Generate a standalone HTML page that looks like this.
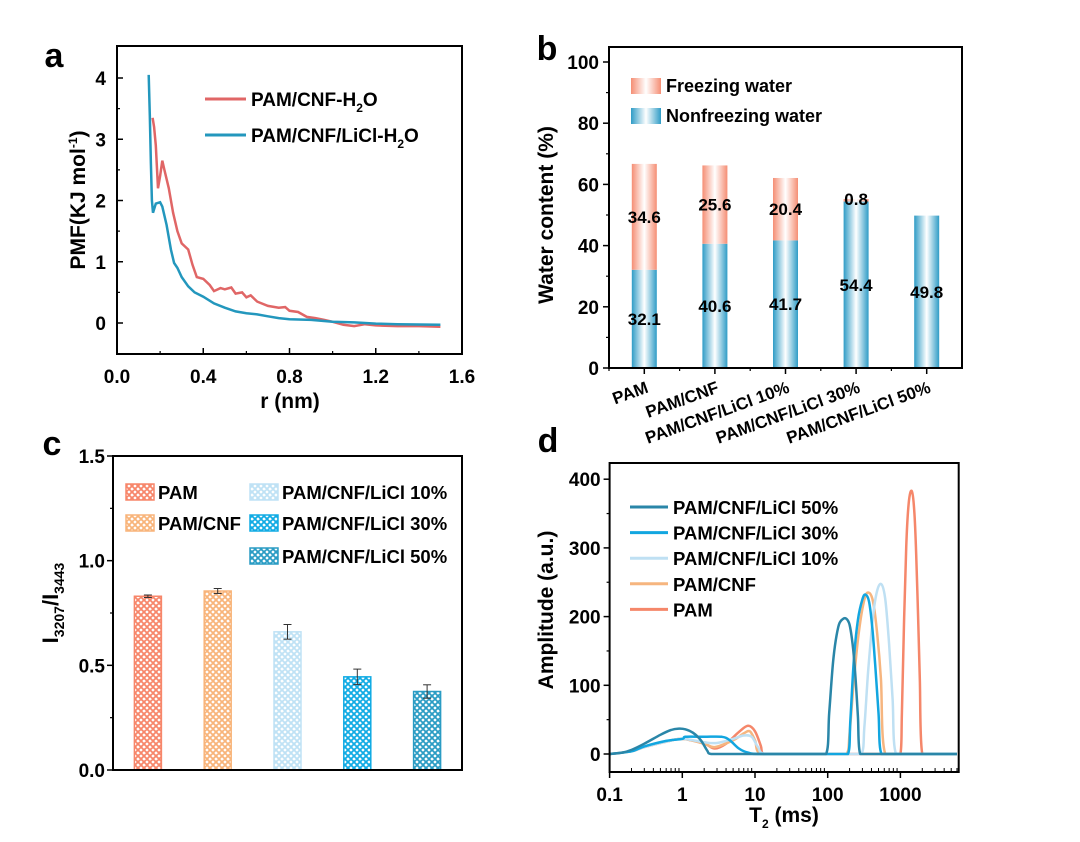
<!DOCTYPE html>
<html><head><meta charset="utf-8">
<style>
html,body{margin:0;padding:0;background:#fff;}
svg{display:block;font-family:"Liberation Sans",Arial,sans-serif;font-weight:bold;}
</style></head>
<body>
<svg id="fig" width="1080" height="842" viewBox="0 0 1080 842" xmlns="http://www.w3.org/2000/svg">
<defs>
<linearGradient id="gBlue" x1="0" x2="1" y1="0" y2="0">
<stop offset="0" stop-color="#2f9cc6"/><stop offset="0.5" stop-color="#ffffff"/><stop offset="1" stop-color="#2f9cc6"/></linearGradient>
<linearGradient id="gRed" x1="0" x2="1" y1="0" y2="0">
<stop offset="0" stop-color="#f58e74"/><stop offset="0.5" stop-color="#ffffff"/><stop offset="1" stop-color="#f58e74"/></linearGradient>
</defs>
</svg>
<script>
const NS='http://www.w3.org/2000/svg';
const svg=document.getElementById('fig');

// ---------- Panel a data ----------
const aRedR=[0.165,0.172,0.18,0.19,0.20,0.21,0.22,0.24,0.26,0.28,0.30,0.33,0.35,0.37,0.40,0.43,0.45,0.48,0.50,0.53,0.55,0.58,0.60,0.62,0.65,0.70,0.75,0.78,0.80,0.84,0.88,0.92,0.96,1.0,1.05,1.1,1.15,1.2,1.3,1.4,1.5];
const aRedV=[3.35,3.2,2.9,2.2,2.4,2.65,2.5,2.2,1.8,1.5,1.3,1.2,0.95,0.75,0.72,0.62,0.52,0.57,0.55,0.58,0.48,0.5,0.42,0.45,0.35,0.28,0.25,0.26,0.2,0.18,0.1,0.08,0.05,0.02,-0.03,-0.05,-0.02,-0.04,-0.05,-0.05,-0.06];
const aBlueR=[0.147,0.152,0.157,0.162,0.167,0.18,0.20,0.21,0.23,0.25,0.265,0.28,0.30,0.33,0.36,0.40,0.45,0.50,0.55,0.60,0.65,0.70,0.75,0.80,0.90,1.0,1.1,1.2,1.3,1.5];
const aBlueV=[4.05,3.4,2.6,2.0,1.8,1.95,1.97,1.9,1.6,1.2,0.98,0.9,0.75,0.6,0.5,0.43,0.32,0.25,0.19,0.16,0.14,0.11,0.08,0.06,0.05,0.02,0.01,-0.01,-0.02,-0.03];
const aXTicks=[0,0.4,0.8,1.2,1.6];
const aXTickLabels=['0.0','0.4','0.8','1.2','1.6'];
const aYTicks=[0,1,2,3,4];

// ---------- Panel b data ----------
const bCats=['PAM','PAM/CNF','PAM/CNF/LiCl 10%','PAM/CNF/LiCl 30%','PAM/CNF/LiCl 50%'];
const bNonfreezing=[32.1,40.6,41.7,54.4,49.8];
const bFreezing=[34.6,25.6,20.4,0.8,0];
const bYTicks=[0,20,40,60,80,100];

// ---------- Panel c data ----------
const cCats=['PAM','PAM/CNF','PAM/CNF/LiCl 10%','PAM/CNF/LiCl 30%','PAM/CNF/LiCl 50%'];
const cValues=[0.83,0.855,0.66,0.445,0.375];
const cErrors=[0.006,0.012,0.035,0.037,0.032];
const cYTicks=[0,0.5,1.0,1.5];
const cYTickLabels=['0.0','0.5','1.0','1.5'];

// ---------- Panel d data ----------
const dT50=[0.1,0.15,0.2,0.3,0.5,0.7,0.9,1.1,1.4,1.8,2.2,2.5,95,105,120,140,160,180,200,220,240,260,280,6000];
const dA50=[0,2,6,15,28,35,37,36,31,20,5,0,0,60,140,185,196,197,188,160,115,55,0,0];
const dT30=[0.1,0.2,0.3,0.6,1.0,1.1,2,3.5,4.5,6,8,12,190,205,230,260,300,330,370,410,450,500,550,6000];
const dA30=[0,4,11,19,22,25,25,25,20,8,2,0,0,50,140,195,225,232,222,185,130,60,0,0];
const dT10=[0.1,0.2,0.3,0.6,1.0,2,3,5,7,9,11,14,290,320,360,420,480,550,620,700,780,870,6000];
const dA10=[0,4,10,18,22,17,16,22,27,25,10,0,0,40,120,200,238,247,225,160,80,0,0];
const dTCNF=[0.1,0.2,0.3,0.6,1.0,2,2.8,5,7,8.5,10,12,180,200,230,270,320,365,420,480,540,620,6000];
const dACNF=[0,4,10,18,22,15,10,20,30,33,20,0,0,30,110,180,225,235,222,175,110,0,0];
const dTPAM=[0.1,0.2,0.3,0.6,1.0,2,2.8,4,6,8,10,12,13,1000,1050,1120,1200,1300,1430,1550,1650,1750,1850,2000,6000];
const dAPAM=[0,4,10,18,22,15,8,15,32,41,33,12,0,0,60,190,300,365,383,355,290,200,110,0,0];
const dXTicks=[0.1,1,10,100,1000];
const dXTickLabels=['0.1','1','10','100','1000'];
const dYTicks=[0,100,200,300,400];

function mk(tag,parent,name,attrs){
  const el=document.createElementNS(NS,tag);
  for(const k in attrs) el.setAttribute(k,attrs[k]);
  
  
  parent.appendChild(el);
  return el;
}
function txt(parent,name,x,y,s,size,anchor,extra){
  const t=mk('text',parent,name,Object.assign({x:x,y:y,'font-size':size,'text-anchor':anchor||'middle',fill:'#000'},extra||{}));
  t.textContent=s;
  return t;
}
function line(parent,name,x1,y1,x2,y2,w,c){
  return mk('line',parent,name,{x1:x1,y1:y1,x2:x2,y2:y2,stroke:c||'#000','stroke-width':w||1.5});
}
function pathFrom(xs,ys,fx,fy){return xs.map((x,i)=>(i?'L':'M')+fx(x).toFixed(1)+','+fy(ys[i]).toFixed(1)).join('');}
function smoothPath(xs,ys,fx,fy){
  const p=xs.map((x,i)=>[fx(x),fy(ys[i])]);
  let d='M'+p[0][0].toFixed(1)+','+p[0][1].toFixed(1);
  for(let i=0;i<p.length-1;i++){
    const p0=p[i-1]||p[i],p1=p[i],p2=p[i+1],p3=p[i+2]||p2;
    let c1x=p1[0]+(p2[0]-p0[0])/6,c1y=p1[1]+(p2[1]-p0[1])/6;
    let c2x=p2[0]-(p3[0]-p1[0])/6,c2y=p2[1]-(p3[1]-p1[1])/6;
    c1x=Math.min(Math.max(c1x,p1[0]),p2[0]);c2x=Math.min(Math.max(c2x,p1[0]),p2[0]);
    c1y=Math.min(c1y,754);c2y=Math.min(c2y,754);
    d+='C'+c1x.toFixed(1)+','+c1y.toFixed(1)+' '+c2x.toFixed(1)+','+c2y.toFixed(1)+' '+p2[0].toFixed(1)+','+p2[1].toFixed(1);
  }
  return d;
}

// ===== Panel a =====
const gA=mk('g',svg,'panel-a',{});
const axL=117,axR=462,ayT=46,ayB=354;
const xa=v=>axL+v*(axR-axL)/1.6;
const ya=v=>323-v*61.25;
txt(gA,'panel-label-a',54,67,'a',34);
mk('rect',gA,'plot-frame-a',{x:axL,y:ayT,width:axR-axL,height:ayB-ayT,fill:'none',stroke:'#000','stroke-width':2});
aXTicks.forEach((v,i)=>{
  line(gA,'x-tick-a',xa(v),ayB,xa(v),ayB-6,1.5);
  txt(gA,'x-tick-label-a',xa(v),ayB+29,aXTickLabels[i],19);
  if(i<aXTicks.length-1) line(gA,'x-minor-tick-a',xa(v+0.2),ayB,xa(v+0.2),ayB-3,1.2);
});
aYTicks.forEach(v=>{
  line(gA,'y-tick-a',axL,ya(v),axL+6,ya(v),1.5);
  txt(gA,'y-tick-label-a',axL-11,ya(v)+7,String(v),19,'end');
});
[-0.5,0.5,1.5,2.5,3.5].forEach(v=>line(gA,'y-minor-tick-a',axL,ya(v),axL+3,ya(v),1.2));
txt(gA,'x-axis-title-a',290,408,'r (nm)',21);
const ytA=mk('text',gA,'y-axis-title-a',{transform:'translate(85,200) rotate(-90)','font-size':21,'text-anchor':'middle'});
ytA.innerHTML='PMF(KJ mol<tspan dy="-8" font-size="12">-1</tspan><tspan dy="8">)</tspan>';
mk('path',gA,'series-pam-cnf-h2o',{d:pathFrom(aRedR,aRedV,xa,ya),fill:'none',stroke:'#e06666','stroke-width':2.5});
mk('path',gA,'series-pam-cnf-licl-h2o',{d:pathFrom(aBlueR,aBlueV,xa,ya),fill:'none',stroke:'#2397bd','stroke-width':2.5});
line(gA,'legend-line-red',205,99,246,99,3,'#e06666');
const l1=mk('text',gA,'legend-label-pam-cnf-h2o',{x:251,y:106,'font-size':19});
l1.innerHTML='PAM/CNF-H<tspan dy="6" font-size="12">2</tspan><tspan dy="-6">O</tspan>';
line(gA,'legend-line-blue',205,135,246,135,3,'#2397bd');
const l2=mk('text',gA,'legend-label-pam-cnf-licl-h2o',{x:251,y:142,'font-size':19});
l2.innerHTML='PAM/CNF/LiCl-H<tspan dy="6" font-size="12">2</tspan><tspan dy="-6">O</tspan>';

// ===== Panel b =====
const gB=mk('g',svg,'panel-b',{});
const bxL=609,bxR=962,byT=47,byB=368;
const yb=v=>byB-v*3.06;
const slotB=(bxR-bxL)/bCats.length;
const xb=i=>bxL+slotB*(i+0.5);
txt(gB,'panel-label-b',547,60,'b',34);
bYTicks.forEach(v=>{
  line(gB,'y-tick-b',bxL,yb(v),bxL-6,yb(v),1.5);
  txt(gB,'y-tick-label-b',bxL-10,yb(v)+7,String(v),19,'end');
  if(v<100) line(gB,'y-minor-tick-b',bxL,yb(v+10),bxL-3,yb(v+10),1.2);
});
const bw=25;
bCats.forEach((c,i)=>{
  const x=xb(i)-bw/2;
  mk('rect',gB,'bar-nonfreezing',{x:x,y:yb(bNonfreezing[i]),width:bw,height:yb(0)-yb(bNonfreezing[i]),fill:'url(#gBlue)'});
  if(bFreezing[i]>0) mk('rect',gB,'bar-freezing',{x:x,y:yb(bNonfreezing[i]+bFreezing[i]),width:bw,height:yb(0)-yb(bFreezing[i]),fill:'url(#gRed)'});
  const top=bNonfreezing[i]+bFreezing[i];
  txt(gB,'value-label-nonfreezing',xb(i),yb(bNonfreezing[i]/2)+6,bNonfreezing[i].toFixed(1),17);
  if(bFreezing[i]>0){
    const yy=bFreezing[i]>5?yb(bNonfreezing[i]+bFreezing[i]/2)+6:yb(top)+6;
    txt(gB,'value-label-freezing',xb(i),yy,bFreezing[i].toFixed(1),17);
  }
  line(gB,'x-tick-b',xb(i),byB,xb(i),byB+6,1.5);
  line(gB,'x-minor-tick-b',bxL+slotB*i,byB,bxL+slotB*i,byB+3,1.2);
  txt(gB,'x-tick-label-b',xb(i)+5,byB+24,c,17,'end',{transform:`rotate(-20 ${xb(i)+5} ${byB+24})`});
});
mk('rect',gB,'plot-frame-b',{x:bxL,y:byT,width:bxR-bxL,height:byB-byT,fill:'none',stroke:'#000','stroke-width':2});
txt(gB,'y-axis-title-b',0,0,'Water content (%)',21,'middle',{transform:'translate(553,215) rotate(-90)'});
mk('rect',gB,'legend-swatch-freezing',{x:631,y:78,width:30,height:16,fill:'url(#gRed)'});
txt(gB,'legend-label-freezing',666,92,'Freezing water',18,'start');
mk('rect',gB,'legend-swatch-nonfreezing',{x:631,y:108,width:30,height:16,fill:'url(#gBlue)'});
txt(gB,'legend-label-nonfreezing',666,122,'Nonfreezing water',18,'start');

// ===== Panel c =====
const gC=mk('g',svg,'panel-c',{});
const cxL=113,cxR=462,cyT=456,cyB=770;
const yc=v=>cyB-v*(cyB-cyT)/1.5;
const slotC=(cxR-cxL)/cCats.length;
const xc=i=>cxL+slotC*(i+0.5);
const cColors=['#f7866a','#f8b47a','#bfe2f5','#10abe4','#2a9cc4'];
const defs=svg.querySelector('defs');
cColors.forEach((col,i)=>{
  const p=mk('pattern',defs,'hatch-pattern',{id:'hp'+i,patternUnits:'userSpaceOnUse',width:6,height:6});
  mk('rect',p,'hatch-bg',{width:6,height:6,fill:'#fff'});
  mk('path',p,'hatch-lines',{d:'M-1,-1 L7,7 M7,-1 L-1,7 M-4,2 L2,-4 M4,10 L10,4 M-4,4 L2,10 M4,-4 L10,2',stroke:col,'stroke-width':1.8,fill:'none'});
});
txt(gC,'panel-label-c',52,455,'c',34);
cYTicks.forEach((v,i)=>{
  line(gC,'y-tick-c',cxL,yc(v),cxL-6,yc(v),1.5);
  txt(gC,'y-tick-label-c',cxL-8,yc(v)+7,cYTickLabels[i],19,'end');
  if(v<1.5) line(gC,'y-minor-tick-c',cxL,yc(v+0.25),cxL-3,yc(v+0.25),1.2);
});
const cw=27;
cCats.forEach((c,i)=>{
  mk('rect',gC,'bar-c',{x:xc(i)-cw/2,y:yc(cValues[i]),width:cw,height:yc(0)-yc(cValues[i]),fill:'url(#hp'+i+')',stroke:cColors[i],'stroke-width':1.5});
  const e=cErrors[i];
  line(gC,'error-bar',xc(i),yc(cValues[i]+e),xc(i),yc(cValues[i]-e),1,'#333');
  line(gC,'error-cap',xc(i)-4,yc(cValues[i]+e),xc(i)+4,yc(cValues[i]+e),1,'#333');
  line(gC,'error-cap',xc(i)-4,yc(cValues[i]-e),xc(i)+4,yc(cValues[i]-e),1,'#333');
});
mk('rect',gC,'plot-frame-c',{x:cxL,y:cyT,width:cxR-cxL,height:cyB-cyT,fill:'none',stroke:'#000','stroke-width':2});
const ytC=mk('text',gC,'y-axis-title-c',{transform:'translate(58,603) rotate(-90)','font-size':22,'text-anchor':'middle'});
ytC.innerHTML='I<tspan dy="6" font-size="14">3207</tspan><tspan dy="-6">/I</tspan><tspan dy="6" font-size="14">3443</tspan>';
const cLeg=[[126,492],[126,523],[250,492],[250,523],[250,556]];
cCats.forEach((c,i)=>{
  mk('rect',gC,'legend-swatch-c',{x:cLeg[i][0],y:cLeg[i][1]-8,width:28,height:16,fill:'url(#hp'+i+')',stroke:cColors[i],'stroke-width':1.5});
  txt(gC,'legend-label-c',cLeg[i][0]+32,cLeg[i][1]+7,c,18.5,'start');
});

// ===== Panel d =====
const gD=mk('g',svg,'panel-d',{});
const dxL=609.6,dxR=958.7,dyT=463,dyB=772;
const xd=v=>dxL+(Math.log10(v)+1)*72.7;
const yd=v=>754-v*0.687;
txt(gD,'panel-label-d',548,452,'d',34);
dYTicks.forEach(v=>{
  line(gD,'y-tick-d',dxL,yd(v),dxL-6,yd(v),1.5);
  txt(gD,'y-tick-label-d',dxL-9,yd(v)+7,String(v),19,'end');
  if(v<400) line(gD,'y-minor-tick-d',dxL,yd(v+50),dxL-3,yd(v+50),1.2);
});
dXTicks.forEach((v,i)=>{
  line(gD,'x-tick-d',xd(v),dyB,xd(v),dyB+6,1.5);
  txt(gD,'x-tick-label-d',xd(v),dyB+29,dXTickLabels[i],19);
});
[0.1,1,10,100,1000].forEach(dec=>{for(let k=2;k<10;k++){const v=dec*k;if(xd(v)<dxR) line(gD,'x-minor-tick-d',xd(v),dyB,xd(v),dyB-4,1);}});
const series=[[dTPAM,dAPAM,'#f5876a','series-pam'],[dTCNF,dACNF,'#f6b57f','series-pam-cnf'],[dT10,dA10,'#bfe0f3','series-licl-10'],[dT30,dA30,'#12a6e0','series-licl-30'],[dT50,dA50,'#2a86a8','series-licl-50']];
series.forEach(s=>mk('path',gD,s[3],{d:smoothPath(s[0],s[1],xd,yd),fill:'none',stroke:s[2],'stroke-width':2.5,'stroke-linejoin':'round'}));
mk('rect',gD,'plot-frame-d',{x:dxL,y:dyT,width:dxR-dxL,height:dyB-dyT,fill:'none',stroke:'#000','stroke-width':2});
const dLeg=[['PAM/CNF/LiCl 50%','#2a86a8'],['PAM/CNF/LiCl 30%','#12a6e0'],['PAM/CNF/LiCl 10%','#bfe0f3'],['PAM/CNF','#f6b57f'],['PAM','#f5876a']];
dLeg.forEach((l,i)=>{
  const y=507+i*25.6;
  line(gD,'legend-line-d',630,y,668,y,3,l[1]);
  txt(gD,'legend-label-d',673,y+7,l[0],18.5,'start');
});
txt(gD,'y-axis-title-d',0,0,'Amplitude (a.u.)',21,'middle',{transform:'translate(553,610) rotate(-90)'});
const xtD=mk('text',gD,'x-axis-title-d',{x:784,y:822,'font-size':21,'text-anchor':'middle'});
xtD.innerHTML='T<tspan dy="6" font-size="12">2</tspan><tspan dy="-6"> (ms)</tspan>';
</script>
</body></html>
